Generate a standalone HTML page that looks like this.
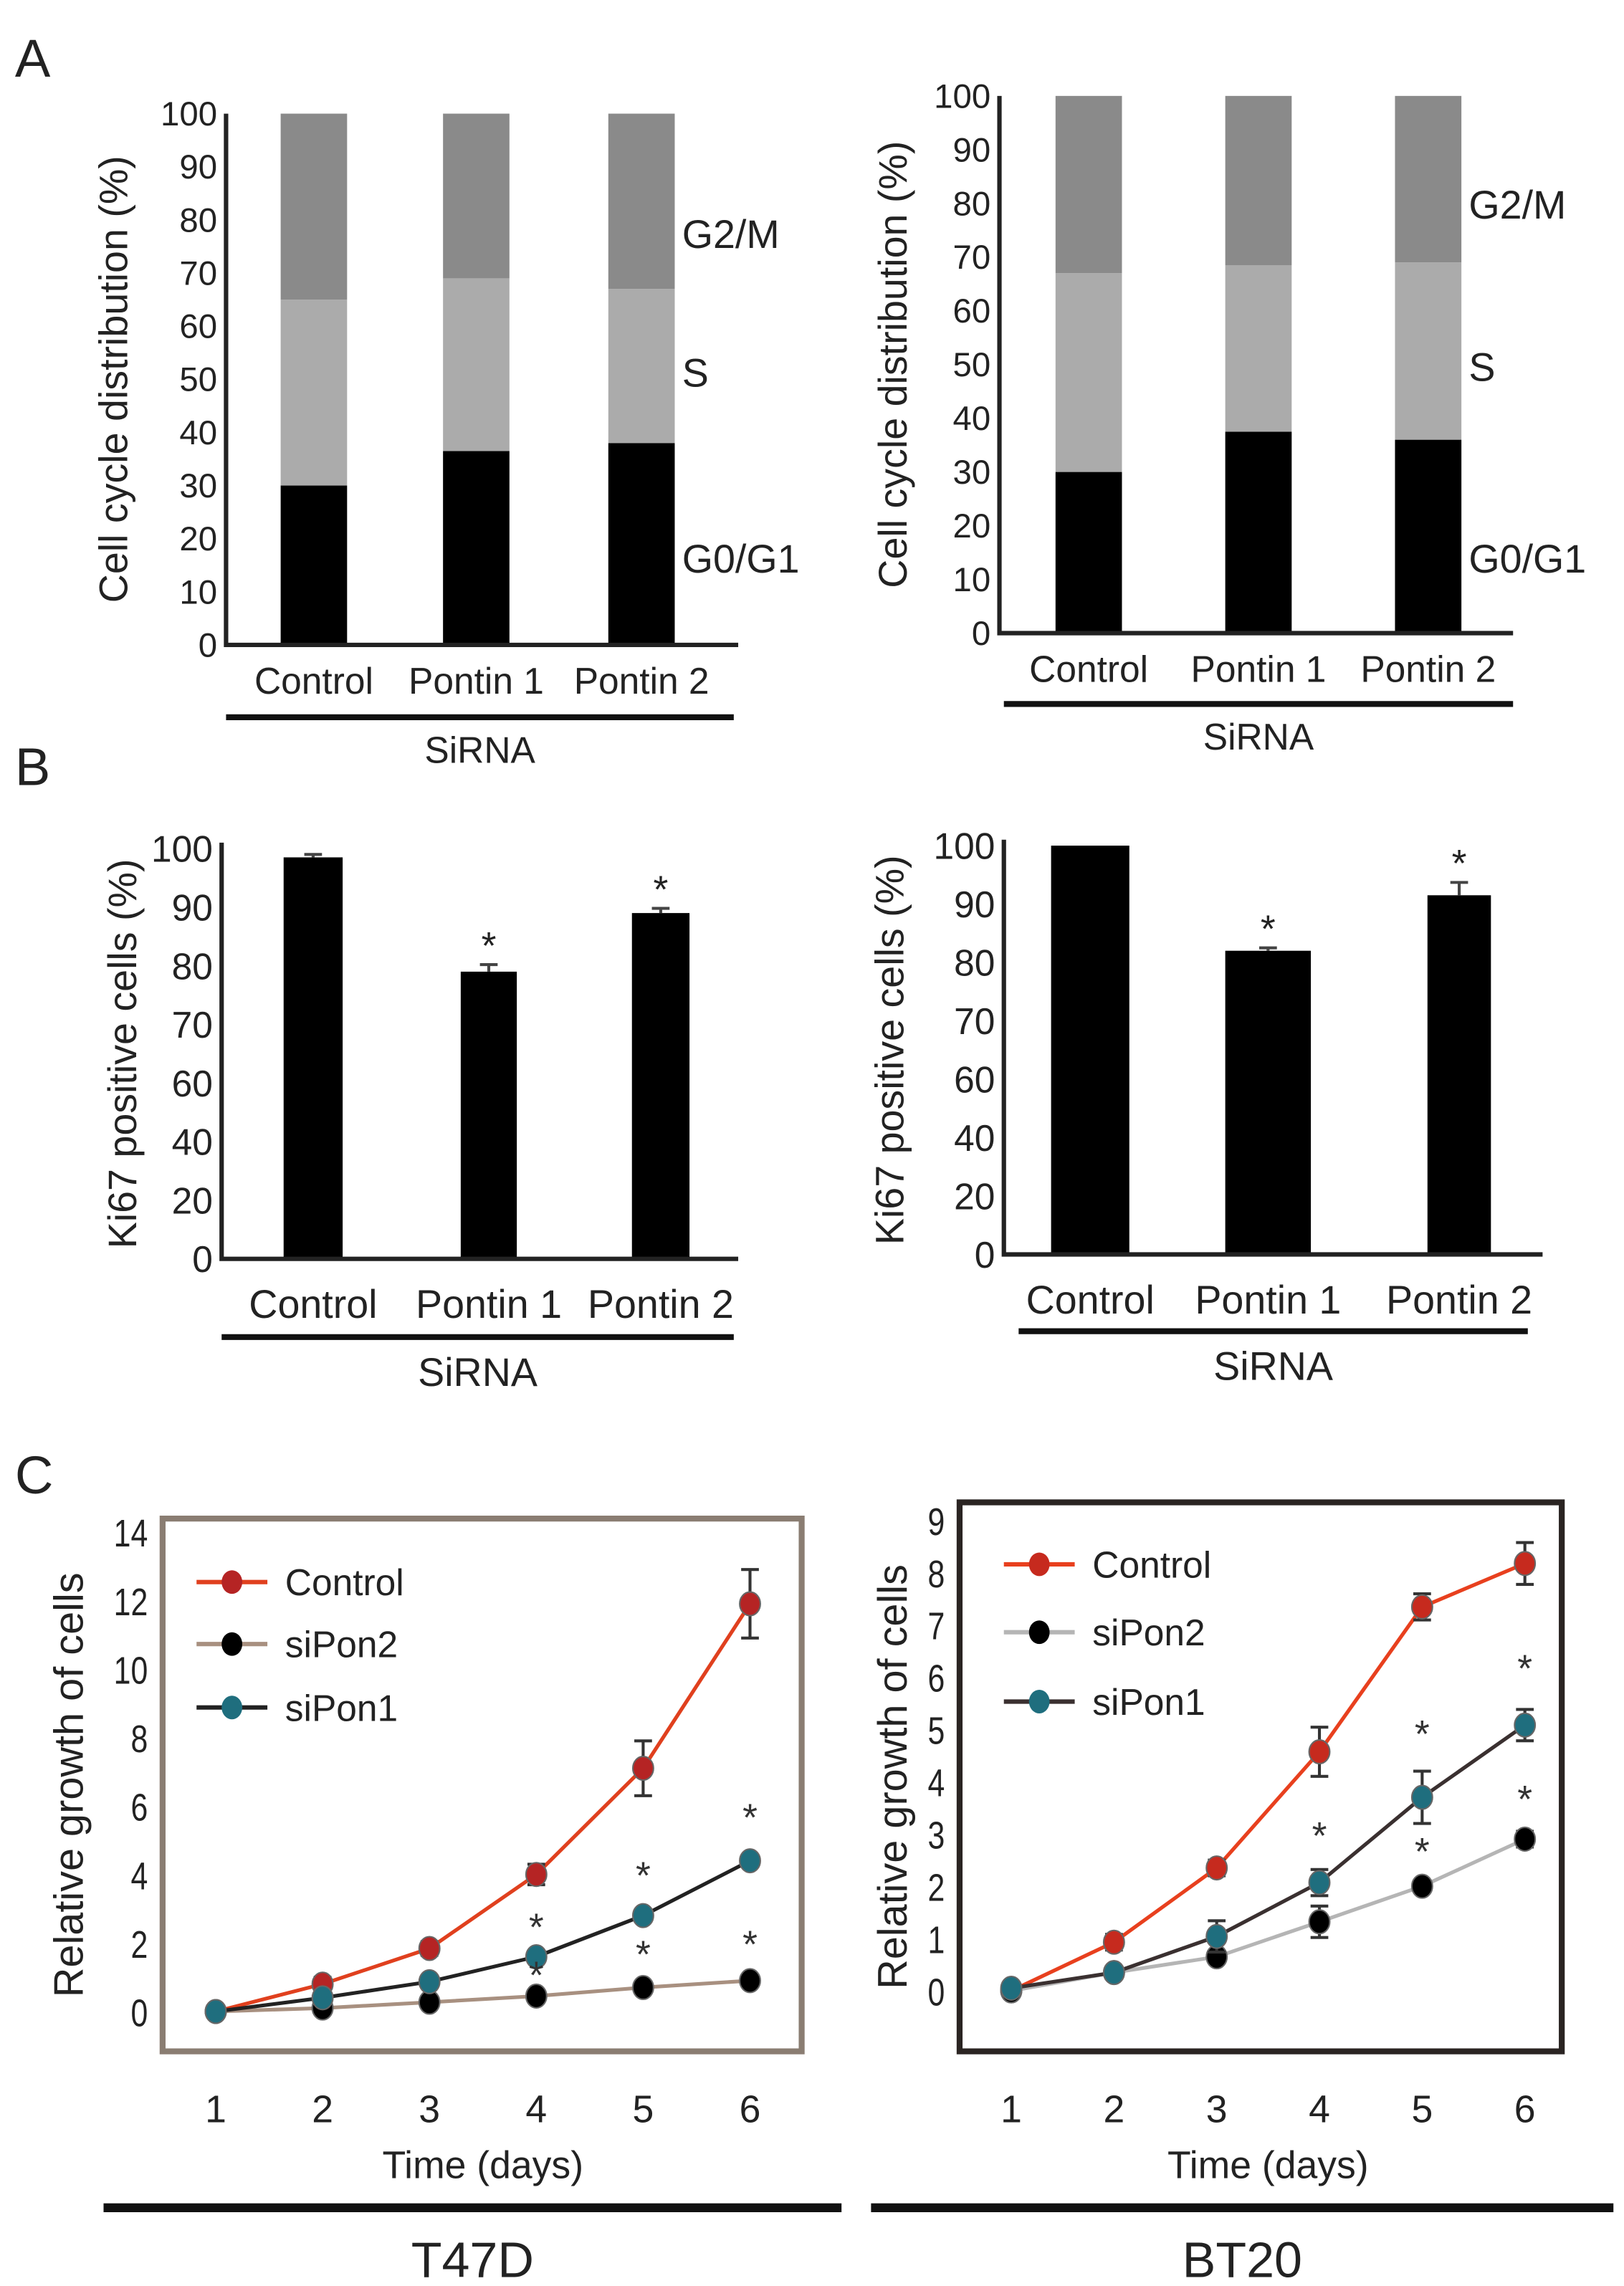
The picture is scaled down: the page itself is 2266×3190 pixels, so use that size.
<!DOCTYPE html>
<html><head><meta charset="utf-8"><style>
html,body{margin:0;padding:0;background:#fff;}
svg{display:block;font-family:"Liberation Sans",Arial,sans-serif;}
</style></head><body>
<svg id="fig" width="2266" height="3190" viewBox="0 0 1100 1549" xmlns="http://www.w3.org/2000/svg">
<text x="10" y="52" font-size="36" fill="#222">A</text>
<text x="10" y="532" font-size="36" fill="#222">B</text>
<text x="10" y="1012" font-size="36" fill="#222">C</text>
</svg>
<script>
const groups = ["Control","Pontin 1","Pontin 2"];
// Panel A (cell cycle, % stacked)
const aLeftG0G1 = [30, 36.5, 38];
const aLeftS = [35, 32.5, 29];
const aLeftG2M = [35, 31, 33];
const aRightG0G1 = [30, 37.5, 36];
const aRightS = [37, 31, 33];
const aRightG2M = [33, 31.5, 31];
const aTicks = [0,10,20,30,40,50,60,70,80,90,100];
// Panel B (Ki67)
const bTickLabels = [0,20,40,60,70,80,90,100];
const bLeftVals = [98.5, 79, 89];
const bLeftErr = [0.5, 1.2, 0.8];
const bRightVals = [100, 82, 91.5];
const bRightErr = [0, 0.5, 2.2];
// Panel C (growth)
const days = [1,2,3,4,5,6];
const cLeftControl = [0, 0.8, 1.84, 4.0, 7.1, 11.9];
const cLeftControlErr = [0, 0.2, 0.2, 0.3, 0.8, 1.0];
const cLeftPon1 = [0, 0.4, 0.87, 1.6, 2.8, 4.4];
const cLeftPon2 = [0, 0.1, 0.27, 0.45, 0.7, 0.9];
const cLeftStarsPon1 = [null,null,null,2.6,4.1,5.8];
const cLeftStarsPon2 = [null,null,null,1.2,1.8,2.1];
const cLeftTicks = [0,2,4,6,8,10,12,14];
const cRightControl = [0, 0.93, 2.35, 4.57, 7.34, 8.17];
const cRightControlErr = [0, 0.15, 0.15, 0.47, 0.25, 0.4];
const cRightPon1 = [0.05, 0.35, 1.04, 2.07, 3.7, 5.08];
const cRightPon1Err = [0, 0, 0.3, 0.25, 0.5, 0.3];
const cRightPon2 = [0, 0.35, 0.65, 1.32, 2.0, 2.9];
const cRightPon2Err = [0, 0, 0, 0.3, 0.1, 0.15];
const cRightStarsPon1 = [null,null,null,3.05,5.0,6.25];
const cRightStarsPon2 = [null,null,null,null,2.75,3.75];
const cRightTicks = [0,1,2,3,4,5,6,7,8,9];

const svg = document.getElementById('fig');
const NS = 'http://www.w3.org/2000/svg';
function mk(tag, attrs, parent){const e=document.createElementNS(NS,tag);for(const k in attrs)e.setAttribute(k,attrs[k]);(parent||svg).appendChild(e);return e;}
function txt(x,y,s,size,anchor,parent,extra){const e=mk('text',Object.assign({x:x,y:y,'font-size':size,'text-anchor':anchor||'start',fill:'#222'},extra||{}),parent);e.textContent=s;return e;}

// ---------- Panel A ----------
function panelA(cfg, g0, s, g2){
  const g = mk('g',{});
  
  
  const y = v => cfg.y0 + (cfg.y100 - cfg.y0) * v / 100;
  aTicks.forEach(t=>{
    const l = txt(cfg.ax-6, y(t)+8, String(t), 23, 'end', g);
    
    
  });
  groups.forEach((gr,i)=>{
    const x = cfg.bx[i];
    const segs = [[0,g0[i],'#000','g0g1'],[g0[i],g0[i]+s[i],'#ababab','s'],[g0[i]+s[i],g0[i]+s[i]+g2[i],'#8a8a8a','g2m']];
    segs.forEach(sg=>{
      const r = mk('rect',{x:x,y:y(sg[1]),width:cfg.bw,height:y(sg[0])-y(sg[1]),fill:sg[2]},g);
      
      
    });
    const xl = txt(x+cfg.bw/2, cfg.xly, gr, 25, 'middle', g);
    
    
  });
  const ax = mk('path',{d:`M${cfg.ax},${y(100)} V${cfg.y0} H${cfg.axEnd}`,stroke:'#222','stroke-width':3,fill:'none'},g);
  
  
  const lab = [['G2/M',cfg.lg[0]],['S',cfg.lg[1]],['G0/G1',cfg.lg[2]]];
  lab.forEach(L=>{const t=txt(cfg.lx,L[1],L[0],27,'start',g);});
  const ln = mk('line',{x1:cfg.lineX[0],x2:cfg.lineX[1],y1:cfg.lineY,y2:cfg.lineY,stroke:'#111','stroke-width':4},g);
  
  
  const sr = txt((cfg.lineX[0]+cfg.lineX[1])/2, cfg.lineY+31, 'SiRNA', 25, 'middle', g);
  
  
  const yt = txt(0,0,'Cell cycle distribution (%)',27,'middle',g,{transform:`translate(${cfg.tx},${(cfg.y0+cfg.y100)/2}) rotate(-90)`});
  
  
}
panelA({name:'chart-a-left',ax:153,y0:437,y100:77,axEnd:500,bx:[190,300,412],bw:45,xly:470,lx:462,lg:[168,262,388],lineX:[153,497],lineY:486,tx:86},aLeftG0G1,aLeftS,aLeftG2M);
panelA({name:'chart-a-right',ax:677,y0:429,y100:65,axEnd:1025,bx:[715,830,945],bw:45,xly:462,lx:995,lg:[148,258,388],lineX:[680,1025],lineY:477,tx:614},aRightG0G1,aRightS,aRightG2M);

// ---------- Panel B ----------
function panelB(cfg, vals, errs, stars){
  const g = mk('g',{});
  
  
  const step = (cfg.y0 - cfg.yTop)/(bTickLabels.length-1);
  // piecewise scale through tick labels
  const y = v => {
    for(let i=0;i<bTickLabels.length-1;i++){
      const a=bTickLabels[i], b=bTickLabels[i+1];
      if(v<=b){return cfg.y0 - step*(i + (v-a)/(b-a));}
    }
    return cfg.yTop;
  };
  bTickLabels.forEach(t=>{
    const l = txt(cfg.ax-6, y(t)+9, String(t), 25, 'end', g);
    
    
  });
  groups.forEach((gr,i)=>{
    const r = mk('rect',{x:cfg.bx[i],y:y(vals[i]),width:cfg.bw[i],height:cfg.y0-y(vals[i]),fill:'#000'},g);
    
    
    const cx = cfg.bx[i]+cfg.bw[i]/2;
    if(errs[i]>0){
      const e = mk('path',{d:`M${cx},${y(vals[i]+errs[i])} V${y(vals[i])} M${cx-6},${y(vals[i]+errs[i])} H${cx+6}`,stroke:'#444','stroke-width':2},g);
      
      
    }
    if(stars[i]){
      const s = txt(cx, y(vals[i]+errs[i])-4, '*', 26, 'middle', g);
      
      
    }
    const xl = txt(cx, cfg.xly, gr, 27, 'middle', g);
    
    
  });
  const ax = mk('path',{d:`M${cfg.ax},${cfg.yTop-4} V${cfg.y0} H${cfg.axEnd}`,stroke:'#222','stroke-width':3,fill:'none'},g);
  
  
  const ln = mk('line',{x1:cfg.lineX[0],x2:cfg.lineX[1],y1:cfg.lineY,y2:cfg.lineY,stroke:'#111','stroke-width':4},g);
  
  
  const sr = txt((cfg.lineX[0]+cfg.lineX[1])/2, cfg.lineY+33, 'SiRNA', 27, 'middle', g);
  
  
  const yt = txt(0,0,'Ki67 positive cells (%)',27,'middle',g,{transform:`translate(${cfg.tx},${(cfg.y0+cfg.yTop)/2}) rotate(-90)`});
  
  
}
panelB({name:'chart-b-left',ax:150,y0:853,yTop:575,axEnd:500,bx:[192,312,428],bw:[40,38,39],xly:893,lineX:[150,497],lineY:906,tx:92},bLeftVals,bLeftErr,[false,true,true]);
panelB({name:'chart-b-right',ax:680,y0:850,yTop:573,axEnd:1045,bx:[712,830,967],bw:[53,58,43],xly:890,lineX:[690,1035],lineY:902,tx:612},bRightVals,bRightErr,[false,true,true]);

// ---------- Panel C ----------
function panelC(cfg, series, starsP1, starsP2){
  const g = mk('g',{});
  
  
  const x = d => cfg.x1 + (cfg.x6 - cfg.x1)*(d-1)/5;
  const y = v => cfg.y0 - (cfg.y0 - cfg.yMax)*v/cfg.vMax;
  const fr = mk('rect',{x:cfg.box[0],y:cfg.box[1],width:cfg.box[2]-cfg.box[0],height:cfg.box[3]-cfg.box[1],fill:'#fff',stroke:cfg.frame,'stroke-width':4},g);
  
  
  cfg.ticks.forEach(t=>{
    const l = txt(cfg.box[0]-10, y(t)+10, String(t), 26, 'end', g, {transform:`translate(${cfg.box[0]-10},0) scale(0.8,1) translate(${-(cfg.box[0]-10)},0)`});
    
    
  });
  days.forEach(d=>{
    const l = txt(x(d), cfg.box[3]+48, String(d), 26, 'middle', g);
    
    
  });
  series.forEach(s=>{
    const pts = s.vals.map((v,i)=>x(days[i])+','+y(v)).join(' ');
    const pl = mk('polyline',{points:pts,fill:'none',stroke:s.line,'stroke-width':2.5},g);
    
    
    s.vals.forEach((v,i)=>{
      const e = s.err ? s.err[i] : 0;
      if(e>0){
        const cx=x(days[i]);
        const eb = mk('path',{d:`M${cx},${y(v+e)} V${y(v-e)} M${cx-6},${y(v+e)} H${cx+6} M${cx-6},${y(v-e)} H${cx+6}`,stroke:'#333','stroke-width':2},g);
        
        
      }
      const p = mk('ellipse',{cx:x(days[i]),cy:y(v),rx:7,ry:8,fill:s.marker,stroke:'#666','stroke-width':1},g);
      
      
    });
  });
  [starsP1,starsP2].forEach(arr=>arr.forEach((v,i)=>{
    if(v===null) return;
    const s = txt(x(days[i]), y(v)+12, '*', 26, 'middle', g, {fill:'#333'});
    
    
  }));
  series.forEach((s,k)=>{
    const ly = cfg.legY[k];
    const ll = mk('line',{x1:cfg.legX,x2:cfg.legX+48,y1:ly,y2:ly,stroke:s.line,'stroke-width':3},g);
    
    
    const lm = mk('ellipse',{cx:cfg.legX+24,cy:ly,rx:7,ry:8,fill:s.marker},g);
    
    
    const lt = txt(cfg.legX+60, ly+9, s.label, 25, 'start', g);
    
    
  });
  const xt = txt((cfg.x1+cfg.x6)/2, cfg.box[3]+86, 'Time (days)', 26, 'middle', g);
  
  
  const yt = txt(0,0,'Relative growth of cells',28,'middle',g,{transform:`translate(${cfg.tx},${(cfg.box[1]+cfg.box[3])/2}) rotate(-90)`});
  
  
  const ln = mk('line',{x1:cfg.lineX[0],x2:cfg.lineX[1],y1:1496,y2:1496,stroke:'#111','stroke-width':6},g);
  
  
  const cl = txt((cfg.lineX[0]+cfg.lineX[1])/2, 1543, cfg.cell, 34, 'middle', g);
  
  
}
panelC({name:'chart-c-t47d',box:[110,1029,543,1390],frame:'#8a7d72',x1:146,x6:508,y0:1363,yMax:1038,vMax:14,ticks:cLeftTicks,legX:133,legY:[1072,1114,1157],tx:56,lineX:[70,570],cell:'T47D'},
  [{key:'control',label:'Control',vals:cLeftControl,err:cLeftControlErr,line:'#e0401e',marker:'#b52424'},
   {key:'sipon2',label:'siPon2',vals:cLeftPon2,err:null,line:'#a89080',marker:'#000'},
   {key:'sipon1',label:'siPon1',vals:cLeftPon1,err:null,line:'#222',marker:'#1f6e7e'}],
  cLeftStarsPon1,cLeftStarsPon2);
panelC({name:'chart-c-bt20',box:[650,1018,1058,1390],frame:'#2a2422',x1:685,x6:1033,y0:1349,yMax:1030,vMax:9,ticks:cRightTicks,legX:680,legY:[1060,1106,1153],tx:614,lineX:[590,1093],cell:'BT20'},
  [{key:'control',label:'Control',vals:cRightControl,err:cRightControlErr,line:'#e8401e',marker:'#c62a1e'},
   {key:'sipon2',label:'siPon2',vals:cRightPon2,err:cRightPon2Err,line:'#b5b5b5',marker:'#000'},
   {key:'sipon1',label:'siPon1',vals:cRightPon1,err:cRightPon1Err,line:'#3a3030',marker:'#1f6e7e'}],
  cRightStarsPon1,cRightStarsPon2);
</script>
</body></html>
